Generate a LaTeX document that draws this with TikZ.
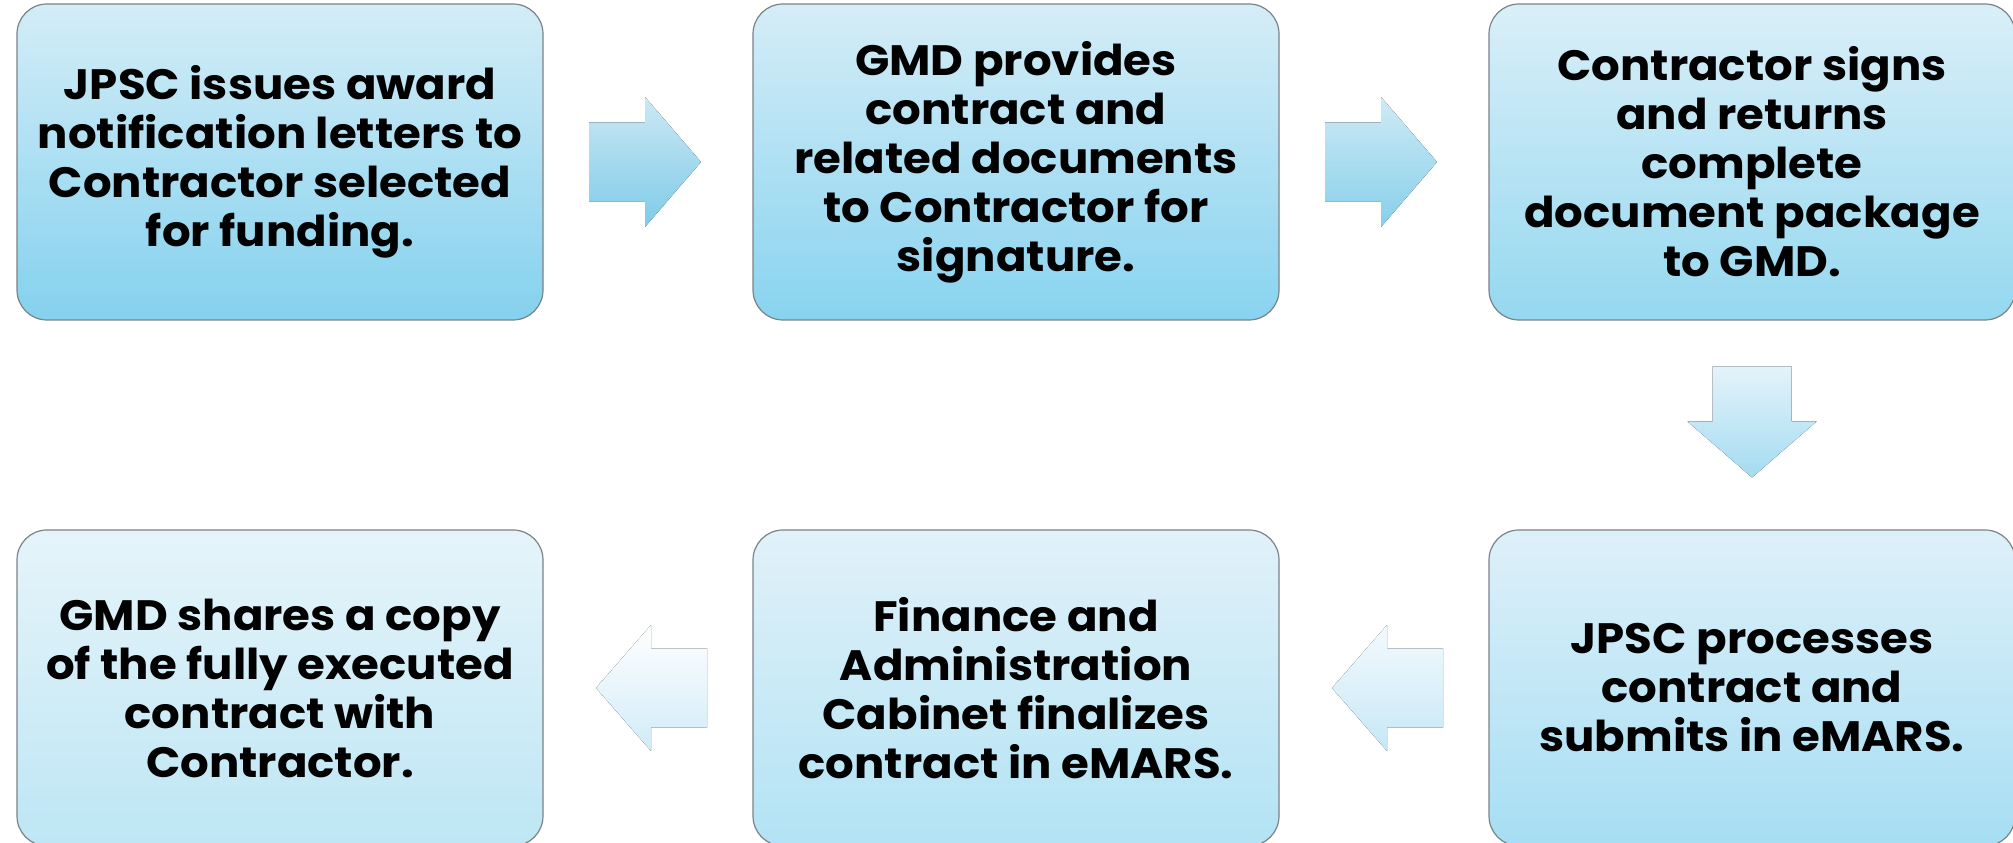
\documentclass[tikz,border=0pt]{standalone}
\usepackage{fontspec}
\setmainfont{Poppins}[FakeStretch=1.06]
\usetikzlibrary{calc}

% box fills, light at the top to deeper at the bottom
\definecolor{boxline}{HTML}{7B8288}
\definecolor{aTop}{HTML}{D4EDF7}\definecolor{aBot}{HTML}{84D1EE}
\definecolor{bTop}{HTML}{D5EDF7}\definecolor{bBot}{HTML}{88D3EF}
\definecolor{cTop}{HTML}{DAEFF8}\definecolor{cBot}{HTML}{95D8F0}
\definecolor{dTop}{HTML}{DEF0F9}\definecolor{dBot}{HTML}{A6DEF3}
\definecolor{eTop}{HTML}{E1F1F9}\definecolor{eBot}{HTML}{B2E3F4}
\definecolor{fTop}{HTML}{E6F4FA}\definecolor{fBot}{HTML}{BDE6F4}
% arrow fills
\definecolor{r1Top}{HTML}{CBE8F4}\definecolor{r1Bot}{HTML}{7ECBE8}
\definecolor{r2Top}{HTML}{CFEAF5}\definecolor{r2Bot}{HTML}{86CFEA}
\definecolor{dnTop}{HTML}{E4F3FA}\definecolor{dnBot}{HTML}{A4DBF1}
\definecolor{l1Top}{HTML}{F3FAFD}\definecolor{l1Bot}{HTML}{C6E7F6}
\definecolor{l2Top}{HTML}{FFFFFF}\definecolor{l2Bot}{HTML}{D0EBF8}

\begin{document}
\begin{tikzpicture}[x=1pt,y=1pt,
  stepbox/.style={draw=boxline, line width=1.2pt, rounded corners=30pt,
    minimum width=526pt, minimum height=316pt, inner sep=0pt,
    align=center, text=black,
    font=\bfseries\fontsize{42.5}{49}\selectfont}
]
\useasboundingbox (0,0) rectangle (2013,843);
\clip (0,0) rectangle (2013,843);

% top row, left to right
\node[stepbox, top color=aTop, bottom color=aBot] (s1) at (280,681)
  {JPSC issues award\\notification letters to\\Contractor selected\\for funding.};
\node[stepbox, top color=bTop, bottom color=bBot] (s2) at (1016,681)
  {GMD provides\\contract and\\related documents\\to Contractor for\\signature.};
\node[stepbox, top color=cTop, bottom color=cBot] (s3) at (1752,681)
  {Contractor signs\\and returns\\complete\\document package\\to GMD.};

% bottom row, right to left
\node[stepbox, top color=dTop, bottom color=dBot] (s4) at (1752,155)
  {JPSC processes\\contract and\\submits in eMARS.};
\node[stepbox, top color=eTop, bottom color=eBot] (s5) at (1016,155)
  {Finance and\\Administration\\Cabinet finalizes\\contract in eMARS.};
\node[stepbox, top color=fTop, bottom color=fBot] (s6) at (280,155)
  {GMD shares a copy\\of the fully executed\\contract with\\Contractor.};

% block arrows placed midway between neighbouring steps
\begin{scope}[shift={($(s1.east)!0.5!(s2.west)$)}]
  \fill[top color=r1Top, bottom color=r1Bot]
    (-59,39.5) -- (-3,39.5) -- (-3,65) -- (53,0) -- (-3,-65) -- (-3,-39.5) -- (-59,-39.5) -- cycle;
\end{scope}
\begin{scope}[shift={($(s2.east)!0.5!(s3.west)$)}]
  \fill[top color=r2Top, bottom color=r2Bot]
    (-59,39.5) -- (-3,39.5) -- (-3,65) -- (53,0) -- (-3,-65) -- (-3,-39.5) -- (-59,-39.5) -- cycle;
\end{scope}
\begin{scope}[shift={($(s3.south)!0.5!(s4.north)$)}]
  \fill[top color=dnTop, bottom color=dnBot]
    (-39.5,58.5) -- (39.5,58.5) -- (39.5,3.5) -- (64.5,3.5) -- (0,-52.5) -- (-64.5,3.5) -- (-39.5,3.5) -- cycle;
\end{scope}
\begin{scope}[shift={($(s5.east)!0.5!(s4.west)$)}]
  \fill[top color=l1Top, bottom color=l1Bot]
    (59,39.5) -- (3,39.5) -- (3,63) -- (-52,0) -- (3,-63) -- (3,-39.5) -- (59,-39.5) -- cycle;
\end{scope}
\begin{scope}[shift={($(s6.east)!0.5!(s5.west)$)}]
  \fill[top color=l2Top, bottom color=l2Bot]
    (59,39.5) -- (3,39.5) -- (3,63) -- (-52,0) -- (3,-63) -- (3,-39.5) -- (59,-39.5) -- cycle;
\end{scope}
\end{tikzpicture}
\end{document}
